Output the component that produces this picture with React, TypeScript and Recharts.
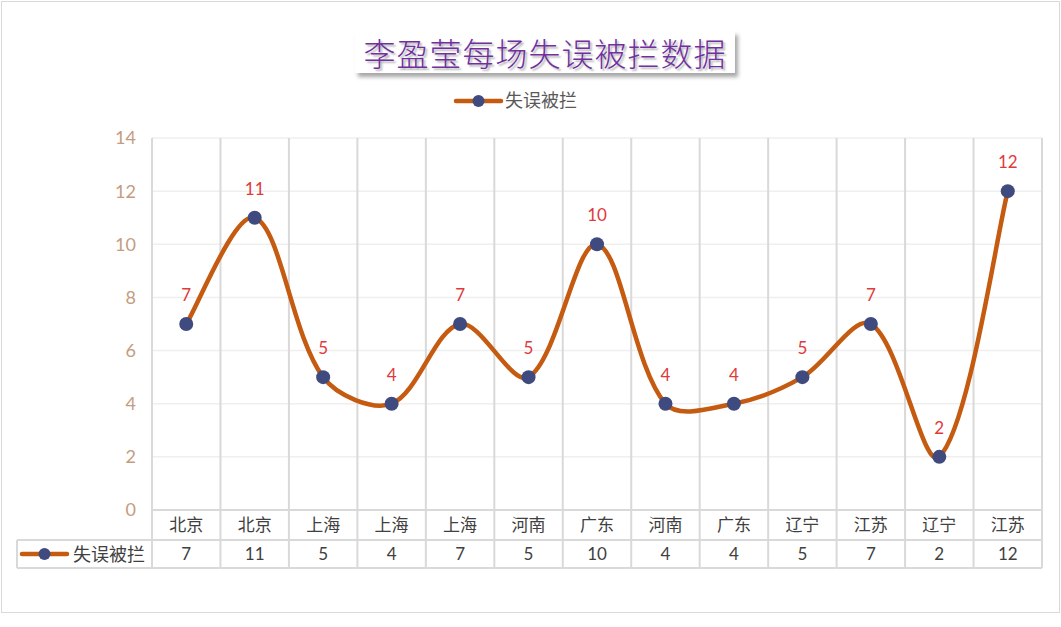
import { CartesianGrid, LabelList, Line, LineChart, XAxis, YAxis } from "recharts";

const cities = ["北京", "北京", "上海", "上海", "上海", "河南", "广东", "河南", "广东", "辽宁", "江苏", "辽宁", "江苏"];
const blocked = [7, 11, 5, 4, 7, 5, 10, 4, 4, 5, 7, 2, 12];
const yTicks = [0, 2, 4, 6, 8, 10, 12, 14];
const seriesName = "失误被拦";

const rows = cities.map((city, i) => ({ city, value: blocked[i] }));

const W = 1061;
const H = 627;
const PLOT_LEFT = 152;
const PLOT_RIGHT = 1042;
const PLOT_TOP = 138;
const PLOT_BOTTOM = 510;
const TABLE_H = 58;
const BAND = (PLOT_RIGHT - PLOT_LEFT) / cities.length;

const LINE_COLOR = "#c55a11";
const DOT_COLOR = "#3f4a7e";
const GRID = "#d9d9d9";
const FONT = "Lato, 'Noto Sans CJK SC', sans-serif";

const dist = (a: number[], b: number[]) => Math.hypot(b[0] - a[0], b[1] - a[1]) || 1;

// excel-ish smoothing: bezier with distance weighted tangents
const excelSmooth = (context: any) => {
  let pts: number[][] = [];
  return {
    areaStart() {},
    areaEnd() {},
    lineStart() {
      pts = [];
    },
    lineEnd() {
      if (!pts.length) return;
      context.moveTo(pts[0][0], pts[0][1]);
      for (let i = 0; i < pts.length - 1; i++) {
        const p0 = pts[i - 1] ?? pts[i];
        const p1 = pts[i];
        const p2 = pts[i + 1];
        const p3 = pts[i + 2] ?? p2;
        const d01 = dist(p0, p1);
        const d12 = dist(p1, p2);
        const d23 = dist(p2, p3);
        const f1 = i === 0 ? 1 / 6 : d12 / (d01 + d12) / 3;
        const f2 = i + 2 >= pts.length ? 1 / 6 : d12 / (d12 + d23) / 3;
        context.bezierCurveTo(
          p1[0] + (p2[0] - p0[0]) * f1,
          p1[1] + (p2[1] - p0[1]) * f1,
          p2[0] - (p3[0] - p1[0]) * f2,
          p2[1] - (p3[1] - p1[1]) * f2,
          p2[0],
          p2[1],
        );
      }
    },
    point(x: number, y: number) {
      pts.push([+x, +y]);
    },
  };
};

const LegendMark = ({ x, y }: { x: number; y: number }) => (
  <g>
    <line x1={x} x2={x + 45} y1={y} y2={y} stroke={LINE_COLOR} strokeWidth={4.5} strokeLinecap="round" />
    <circle cx={x + 22.5} cy={y} r={6} fill={DOT_COLOR} />
  </g>
);

const TableTick = (props: any) => {
  const { x, y, payload, index } = props;
  const left = x - BAND / 2;
  const right = x + BAND / 2;
  return (
    <g>
      {index === 0 && (
        <g>
          <line x1={left} x2={left} y1={y} y2={y + TABLE_H} stroke={GRID} strokeWidth={2} />
          <line x1={17} x2={left} y1={y + 30} y2={y + 30} stroke={GRID} strokeWidth={2} />
          <line x1={17} x2={left} y1={y + TABLE_H} y2={y + TABLE_H} stroke={GRID} strokeWidth={2} />
          <line x1={17} x2={17} y1={y + 30} y2={y + TABLE_H} stroke={GRID} strokeWidth={2} />
          <LegendMark x={22} y={y + 44} />
          <text x={73} y={y + 51} fontSize={18} fill="#404040" fontFamily={FONT}>
            {seriesName}
          </text>
        </g>
      )}
      <line x1={right} x2={right} y1={y} y2={y + TABLE_H} stroke={GRID} strokeWidth={2} />
      <line x1={left} x2={right} y1={y + 30} y2={y + 30} stroke={GRID} strokeWidth={2} />
      <line x1={left} x2={right} y1={y + TABLE_H} y2={y + TABLE_H} stroke={GRID} strokeWidth={2} />
      <text x={x} y={y + 21} textAnchor="middle" fontSize={17} fill="#404040" fontFamily={FONT}>
        {payload.value}
      </text>
      <text x={x} y={y + 50} textAnchor="middle" fontSize={17} fill="#404040" fontFamily={FONT}>
        {blocked[index]}
      </text>
    </g>
  );
};

const bandEdges = ({ offset }: any) =>
  cities.map((_, i) => offset.left + i * (offset.width / cities.length)).concat(offset.left + offset.width);

export default function App() {
  return (
    <div style={{ position: "fixed", left: 0, top: 0, width: W, height: H, background: "#fff" }}>
      <div
        style={{
          position: "absolute",
          left: 1,
          top: 1,
          width: W - 4,
          height: 610,
          border: `1px solid ${GRID}`,
        }}
      />
      <div style={{ position: "absolute", left: 0, top: 0 }}>
        <LineChart
          width={W}
          height={H}
          data={rows}
          margin={{ top: PLOT_TOP, right: W - PLOT_RIGHT, bottom: H - PLOT_BOTTOM - TABLE_H, left: PLOT_LEFT - 60 }}
        >
          <CartesianGrid vertical={false} stroke="#efefef" strokeWidth={1.5} />
          <CartesianGrid horizontal={false} stroke={GRID} strokeWidth={2} verticalCoordinatesGenerator={bandEdges} />
          <XAxis
            dataKey="city"
            allowDuplicatedCategory
            padding={{ left: BAND / 2, right: BAND / 2 }}
            height={TABLE_H}
            tickLine={false}
            tickSize={0}
            tickMargin={0}
            axisLine={{ stroke: GRID, strokeWidth: 2 }}
            tick={TableTick}
            interval={0}
          />
          <YAxis
            width={60}
            domain={[0, 14]}
            ticks={yTicks}
            axisLine={false}
            tickLine={false}
            tickSize={0}
            tickMargin={16}
            tick={{ fill: "#c49c80", fontSize: 18, fontFamily: FONT }}
          />
          <Line
            dataKey="value"
            name={seriesName}
            type={excelSmooth as any}
            stroke={LINE_COLOR}
            strokeWidth={4.5}
            dot={{ r: 7, fill: DOT_COLOR, stroke: "none" }}
            activeDot={false}
            isAnimationActive={false}
          >
            <LabelList dataKey="value" position="top" offset={23} fill="#e03a3a" fontSize={17} fontFamily={FONT} />
          </Line>
        </LineChart>
      </div>
      <div
        style={{
          position: "absolute",
          left: 355,
          top: 31,
          width: 380,
          height: 42,
          background: "#fff",
          boxShadow: "3px 4px 4px rgba(0,0,0,0.35)",
          color: "#7030a0",
          fontFamily: "'Noto Sans CJK SC', sans-serif",
          fontWeight: 300,
          fontSize: 32,
          lineHeight: "42px",
          textAlign: "center",
          textShadow: "2px 2px 2px rgba(0,0,0,0.3)",
          letterSpacing: 1,
        }}
      >
        李盈莹每场失误被拦数据
      </div>
      <svg style={{ position: "absolute", left: 0, top: 0 }} width={W} height={120}>
        <LegendMark x={456} y={101} />
        <text x={505} y={107} fontSize={18} fill="#595959" fontFamily={FONT}>
          {seriesName}
        </text>
      </svg>
    </div>
  );
}
